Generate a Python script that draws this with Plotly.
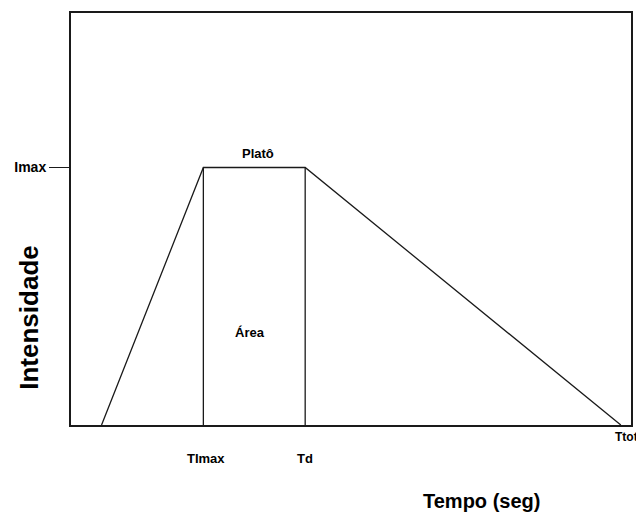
import plotly.graph_objects as go

# Data (arbitrary time units / normalized intensity)
t_points = [0.6, 2.6, 4.6, 10.8]       # start, TImax, Td, Ttot
i_points = [0.0, 1.0, 1.0, 0.0]
imax_val = 1.0
vline_x = [2.6, 4.6]
x_tick_labels = ["TImax", "Td", "Ttot"]
y_tick_labels = ["Imax"]

FONT = "Liberation Sans, Arial, sans-serif"
LINE = "#1a1a1a"

fig = go.Figure()
fig.add_trace(go.Scatter(x=t_points, y=i_points, mode="lines",
                         line=dict(color=LINE, width=1.3), hoverinfo="skip"))
for vx in vline_x:
    fig.add_trace(go.Scatter(x=[vx, vx], y=[0, imax_val], mode="lines",
                             line=dict(color=LINE, width=1.3), hoverinfo="skip"))

fig.update_layout(
    width=636, height=507,
    margin=dict(l=63, r=13, t=3, b=90),
    paper_bgcolor="white", plot_bgcolor="white",
    showlegend=False,
    font=dict(family=FONT, color="black"),
)
fig.update_xaxes(range=[0, 11], showgrid=False, zeroline=False,
                 showline=True, mirror=True, linecolor=LINE, linewidth=2,
                 showticklabels=False, ticks="")
fig.update_yaxes(range=[0, 1.6], showgrid=False, zeroline=False,
                 showline=True, mirror=True, linecolor=LINE, linewidth=2,
                 tickmode="array", tickvals=[imax_val], ticktext=y_tick_labels,
                 ticks="outside", ticklen=20, tickwidth=1.3, tickcolor=LINE,
                 tickfont=dict(family=FONT, size=14, color="black", weight="bold"))

ann_font = dict(family=FONT, size=13, color="black", weight="bold")
annotations = [
    dict(x=t_points[1], y=0, xref="x", yref="paper", text=x_tick_labels[0],
         showarrow=False, yshift=-33, xshift=3, xanchor="center", yanchor="middle",
         font=ann_font),
    dict(x=t_points[2], y=0, xref="x", yref="paper", text=x_tick_labels[1],
         showarrow=False, yshift=-33, xanchor="center", yanchor="middle",
         font=ann_font),
    dict(x=t_points[3], y=0, xref="x", yref="paper", text=x_tick_labels[2],
         showarrow=False, yshift=-12, xanchor="left", yanchor="middle", xshift=-8,
         font=dict(family=FONT, size=12, color="black", weight="bold")),
    dict(x=3.67, y=1.055, xref="x", yref="y", text="Platô", showarrow=False,
         xanchor="center", yanchor="middle", font=ann_font),
    dict(x=3.52, y=0.359, xref="x", yref="y", text="Área", showarrow=False,
         xanchor="center", yanchor="middle", font=ann_font),
    dict(x=-0.0745, y=0.261, xref="paper", yref="paper", text="Intensidade",
         showarrow=False, textangle=-90, xanchor="center", yanchor="middle",
         font=dict(family=FONT, size=26, color="black", weight="bold")),
    dict(x=0.733, y=-0.1836, xref="paper", yref="paper", text="Tempo (seg)",
         showarrow=False, xanchor="center", yanchor="middle",
         font=dict(family=FONT, size=20, color="black", weight="bold")),
]
fig.update_layout(annotations=annotations)

fig.write_html("out.html")
